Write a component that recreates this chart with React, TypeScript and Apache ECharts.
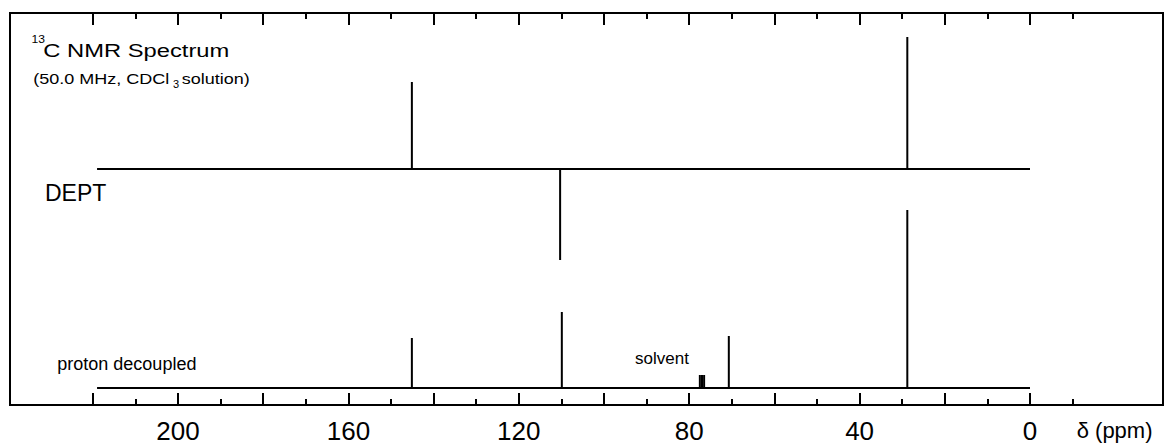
import React, { useEffect, useRef } from "react";
import * as echarts from "echarts";

// ---- data ----
const PPM_MIN = -10;
const PPM_MAX = 220;
const SPECTRUM_START = 219;
const SPECTRUM_END = 0;
const TICK_LABELS = [200, 160, 120, 80, 40, 0];

// DEPT trace (top)
const deptShifts = [145.1, 110.3, 28.8];
const deptIntensities = [87, -91, 132];

// proton decoupled trace (bottom)
const decoupledShifts = [145.1, 109.9, 77.5, 77.0, 76.5, 70.7, 28.8];
const decoupledIntensities = [50, 76, 13, 13, 13, 52, 178];

// ---- layout ----
const W = 1165;
const H = 447;
const PX_ZERO = 1030; // pixel of 0 ppm
const PX_PER_PPM = 4.26;
const FONT = "'Liberation Sans', Arial, Helvetica, sans-serif";

const leftFor = (maxPpm: number) => PX_ZERO - maxPpm * PX_PER_PPM;
const rightFor = (minPpm: number) => W - (PX_ZERO - minPpm * PX_PER_PPM);

function stickSpectrum(shifts: number[], intens: number[]) {
  const pts: number[][] = [[SPECTRUM_START, 0]];
  const order = shifts.map((_, i) => i).sort((a, b) => shifts[b] - shifts[a]);
  for (const i of order) {
    pts.push([shifts[i], 0], [shifts[i], intens[i]], [shifts[i], 0]);
  }
  pts.push([SPECTRUM_END, 0]);
  return pts;
}

const tickStyle = { color: "#000", width: 2 };
const noLine = { show: false, onZero: false };

export default function App() {
  const ref = useRef<HTMLDivElement>(null);
  useEffect(() => {
    if (!ref.current) return;
    const chart = echarts.init(ref.current, undefined, { renderer: "svg" });
    const specLeft = leftFor(PPM_MAX);
    const specRight = rightFor(PPM_MIN);
    const hiddenAxis = (gridIndex: number, min = 0, max = 1) => ({
      type: "value",
      gridIndex,
      show: false,
      min,
      max,
      axisLine: noLine,
    });
    const option: any = {
      animation: false,
      backgroundColor: "#fff",
      grid: [
        { left: 10, top: 13, right: 2, bottom: 42, show: true, borderColor: "#000", borderWidth: 2, backgroundColor: "transparent" },
        { left: specLeft, right: specRight, top: 13, bottom: 42 },
        { left: leftFor(PPM_MAX), right: rightFor(0), top: 13, bottom: 42 },
        { left: specLeft, right: specRight, top: 29, bottom: 178 },
        { left: specLeft, right: specRight, top: 208, bottom: 59 },
      ],
      xAxis: [
        hiddenAxis(0),
        {
          type: "value", gridIndex: 1, position: "bottom", min: PPM_MIN, max: PPM_MAX, interval: 10, inverse: true,
          axisLine: noLine, splitLine: { show: false }, axisLabel: { show: false },
          axisTick: { show: true, inside: true, length: 6, lineStyle: tickStyle },
        },
        {
          type: "value", gridIndex: 1, position: "top", min: PPM_MIN, max: PPM_MAX, interval: 10, inverse: true,
          axisLine: noLine, splitLine: { show: false }, axisLabel: { show: false },
          axisTick: { show: true, inside: true, length: 6, lineStyle: tickStyle },
        },
        {
          type: "value", gridIndex: 2, position: "bottom", min: 0, max: PPM_MAX, interval: 20, inverse: true,
          axisLine: noLine, splitLine: { show: false },
          axisTick: { show: true, inside: true, length: 12, lineStyle: tickStyle },
          axisLabel: {
            show: true, margin: 13, fontSize: 26, fontFamily: FONT, color: "#000",
            formatter: (v: number) => (TICK_LABELS.includes(v) ? String(v) : ""),
          },
        },
        {
          type: "value", gridIndex: 2, position: "top", min: 0, max: PPM_MAX, interval: 20, inverse: true,
          axisLine: noLine, splitLine: { show: false }, axisLabel: { show: false },
          axisTick: { show: true, inside: true, length: 12, lineStyle: tickStyle },
        },
        { type: "value", gridIndex: 3, show: false, min: PPM_MIN, max: PPM_MAX, inverse: true, axisLine: noLine },
        { type: "value", gridIndex: 4, show: false, min: PPM_MIN, max: PPM_MAX, inverse: true, axisLine: noLine },
      ],
      yAxis: [
        hiddenAxis(0),
        hiddenAxis(1),
        hiddenAxis(2),
        hiddenAxis(3, -100, 140),
        hiddenAxis(4, 0, 180),
      ],
      series: [
        {
          name: "DEPT", type: "line", xAxisIndex: 5, yAxisIndex: 3,
          data: stickSpectrum(deptShifts, deptIntensities),
          showSymbol: false, symbol: "none", silent: true,
          lineStyle: { color: "#000", width: 2, join: "bevel", cap: "butt" },
        },
        {
          name: "proton decoupled", type: "line", xAxisIndex: 6, yAxisIndex: 4,
          data: stickSpectrum(decoupledShifts, decoupledIntensities),
          showSymbol: false, symbol: "none", silent: true,
          lineStyle: { color: "#000", width: 2, join: "bevel", cap: "butt" },
        },
      ],
      graphic: [
        { type: "text", x: 31.5, y: 39.5, scaleX: 1.1, style: { text: "13", fontSize: 11, fontFamily: FONT, fill: "#000", verticalAlign: "middle" } },
        { type: "text", x: 43.3, y: 50.5, scaleX: 1.32, style: { text: "C NMR Spectrum", fontSize: 18, fontFamily: FONT, fill: "#000", verticalAlign: "middle" } },
        { type: "text", x: 33.3, y: 78.7, scaleX: 1.2, style: { text: "(50.0 MHz, CDCl", fontSize: 15, fontFamily: FONT, fill: "#000", verticalAlign: "middle" } },
        { type: "text", x: 173, y: 84.2, style: { text: "3", fontSize: 11, fontFamily: FONT, fill: "#000", verticalAlign: "middle" } },
        { type: "text", x: 181.7, y: 78.7, scaleX: 1.2, style: { text: "solution)", fontSize: 15, fontFamily: FONT, fill: "#000", verticalAlign: "middle" } },
        { type: "text", x: 45, y: 193.3, style: { text: "DEPT", fontSize: 23, fontFamily: FONT, fill: "#000", verticalAlign: "middle" } },
        { type: "text", x: 57.3, y: 364.3, style: { text: "proton decoupled", fontSize: 18, fontFamily: FONT, fill: "#000", verticalAlign: "middle" } },
        { type: "text", x: 635, y: 358, style: { text: "solvent", fontSize: 17, fontFamily: FONT, fill: "#000", verticalAlign: "middle" } },
        { type: "text", x: 1076.7, y: 430.5, style: { text: "δ (ppm)", fontSize: 22, fontFamily: FONT, fill: "#000", verticalAlign: "middle" } },
      ],
    };
    chart.setOption(option);
    return () => chart.dispose();
  }, []);
  return (
    <div
      ref={ref}
      style={{ position: "absolute", left: 0, top: 0, width: W, height: H, background: "#fff" }}
    />
  );
}
